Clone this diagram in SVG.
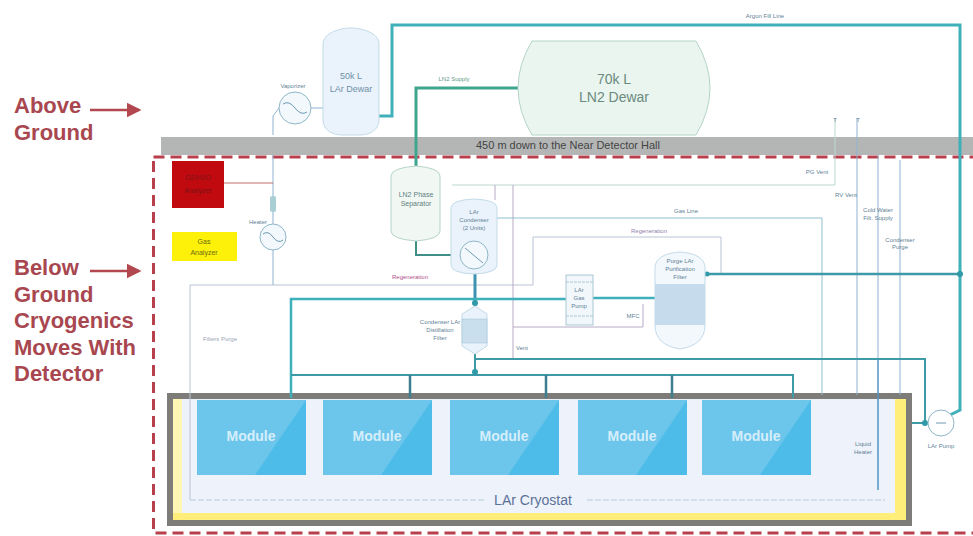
<svg xmlns="http://www.w3.org/2000/svg" width="973" height="536" viewBox="0 0 973 536">
<style>
text{font-family:"Liberation Sans",Arial,sans-serif}
.side{font-size:22px;font-weight:bold;fill:#a8474f}
.sm{font-size:6px;fill:#5f7f96;text-anchor:middle}
.md{font-size:7px;fill:#5f7f80;text-anchor:middle}
.big{font-size:14px;fill:#6b8a80;text-anchor:middle}
.ves{font-size:9px;fill:#6f8fa6;text-anchor:middle}
.mod{font-size:14px;font-weight:bold;fill:#d6eefa;text-anchor:middle}
.vessel{fill:#eaf3fb;stroke:#c3dbe8;stroke-width:1}
.green{fill:#e9f5ee;stroke:#b4d4c8;stroke-width:1}
.pipe{fill:none;stroke:#3fb0ba;stroke-width:3}
.teal{fill:none;stroke:#3f9aa8;stroke-width:2}
.grn{fill:none;stroke:#3fa58f;stroke-width:3}
.thin{fill:none;stroke:#9fc3d6;stroke-width:1}
.blue{fill:none;stroke:#8fb3d0;stroke-width:1}
.plum{fill:none;stroke:#b7a9c4;stroke-width:1}
.circ{fill:#f2f8fc;stroke:#8fb7c9;stroke-width:1}
.mbox{fill:#6cc6ec}
.mtri{fill:#4dbce8}
.dot{fill:#2f9aa8}
</style>
<defs>
<marker id="ah" markerWidth="7" markerHeight="7" refX="5" refY="3" orient="auto"><path d="M0,0L6,3L0,6Z" fill="#b3474f"/></marker>
</defs>
<rect width="973" height="536" fill="#fff"/>

<g id="ground-bar">
<rect x="161" y="137" width="812" height="18" fill="#b4b6b6"/>
<text x="568" y="149" font-size="11" fill="#444" text-anchor="middle">450 m down to the Near Detector Hall</text>
</g>

<g id="zone-below">
<rect x="153.500" y="157" width="830" height="376" fill="none" stroke="#b8404c" stroke-width="3" stroke-dasharray="11 6"/>
</g>

<g id="labels-side">
<text class="side" x="14" y="113">Above</text>
<text class="side" x="14" y="140">Ground</text>
<text class="side" x="14" y="275">Below</text>
<text class="side" x="14" y="302">Ground</text>
<text class="side" x="14" y="328">Cryogenics</text>
<text class="side" x="14" y="355">Moves With</text>
<text class="side" x="14" y="381">Detector</text>
<line x1="90" y1="110" x2="139" y2="110" stroke="#b3474f" stroke-width="2.500" marker-end="url(#ah)"/>
<line x1="90" y1="271" x2="139" y2="271" stroke="#b3474f" stroke-width="2.500" marker-end="url(#ah)"/>
</g>

<g id="cryostat">
<rect x="170" y="396" width="739" height="127" fill="#ffef7a" stroke="#7d7c78" stroke-width="6"/>
<rect x="173" y="399" width="9" height="114" fill="#fdf6b4"/>
<rect x="182" y="399" width="713" height="114" fill="#eef2fa"/>
<text x="533" y="505" font-size="14" fill="#5c7199" text-anchor="middle">LAr Cryostat</text>
<text x="863" y="446" class="sm">Liquid</text>
<text x="863" y="454" class="sm">Heater</text>
</g>

<g id="connectors">
<path class="thin" d="M190 500V285H533V237H721V273" style="stroke:#b9c4d4"/>
<path d="M190 500H485M587 500H885" fill="none" stroke="#b5cbdc" stroke-width="1" stroke-dasharray="6 2"/>
<path class="pipe" d="M378 116H392V25H960V410L948 416"/>
<path class="grn" d="M518 88H416V166"/>
<path class="teal" d="M416 241V255H462" style="stroke:#3f8f88"/>
<path class="blue" d="M323 108H311M279 108L273 116V135"/>
<path class="blue" d="M273 155V285"/>
<path d="M224 183H273" fill="none" stroke="#c56a6a" stroke-width="1"/>
<path class="blue" d="M835 118V185H452" style="stroke:#bcd8d0"/>
<path class="blue" d="M857 118V395"/>
<path class="blue" d="M900 160V395"/>
<path class="blue" d="M878 155V360"/>
<path d="M878 360V490" fill="none" stroke="#4f94c4" stroke-width="1.500"/>
<path class="blue" d="M497 218H822V395" style="stroke:#8fc0d0"/>
<path class="plum" d="M513 185V359M513 327H643V304"/>
<path class="plum" d="M495 185V200"/>
<path class="pipe" d="M475 273V306" style="stroke:#3f93b0"/>
<path class="pipe" d="M291 398V299H566M593 298H655" style="stroke-width:2.500"/>
<path class="teal" d="M475 354V375"/>
<path class="teal" d="M291 375H793V398"/>
<path class="teal" d="M410 375V398M546 375V398M672 375V398" style="stroke:#3d7f90;stroke-width:2.500"/>
<path class="teal" d="M475 359H925V423H912"/>
<path class="teal" d="M705 274H960" style="stroke-width:2.500"/>
<circle class="dot" cx="960" cy="274" r="3"/>
<circle class="dot" cx="925" cy="423" r="3"/>
<circle class="dot" cx="707" cy="274" r="2.500"/>
<circle class="dot" cx="475" cy="372" r="3"/>
<circle class="dot" cx="475" cy="303" r="3"/>
</g>

<g id="lar-dewar">
<path class="vessel" d="M323 44C323 33 340 28 351 28C362 28 379 33 379 44V120C379 131 368 135 360 135H342C334 135 323 131 323 120Z"/>
<text class="ves" x="351" y="79">50k L</text>
<text class="ves" x="351" y="92">LAr Dewar</text>
</g>

<g id="ln2-dewar">
<path class="green" d="M532 41H696Q724 88 696 135H532Q504 88 532 41Z"/>
<text class="big" x="614" y="84">70k L</text>
<text class="big" x="614" y="102">LN2 Dewar</text>
</g>

<g id="vaporizer">
<circle class="circ" cx="295" cy="108" r="16"/>
<path d="M283 104Q289 100 295 108T307 112" fill="none" stroke="#6d9ab0"/>
<text class="sm" x="293" y="88">Vaporizer</text>
</g>

<g id="o2-analyzer">
<rect x="172" y="161" width="52" height="47" fill="#c00a10"/>
<text x="198" y="180" font-size="7" fill="#7a1416" text-anchor="middle">O2/H2O</text>
<text x="198" y="193" font-size="7" fill="#7a1416" text-anchor="middle">Analyzer</text>
</g>

<g id="gas-analyzer">
<rect x="172" y="232" width="65" height="29" fill="#fdf10a"/>
<text x="204" y="244" font-size="7" fill="#6d6a10" text-anchor="middle">Gas</text>
<text x="204" y="255" font-size="7" fill="#6d6a10" text-anchor="middle">Analyzer</text>
</g>

<g id="heater">
<rect x="270" y="196" width="6" height="16" rx="2" fill="#a9cfd4"/>
<circle class="circ" cx="273" cy="237" r="13"/>
<path d="M263 234Q268 230 273 237T283 240" fill="none" stroke="#6d9ab0"/>
<text class="sm" x="258" y="224">Heater</text>
</g>

<g id="phase-separator">
<path class="green" d="M391 176Q391 168 416 166Q440 168 440 176V231Q440 239 416 241Q391 239 391 231Z" style="fill:#f1f8f4"/>
<text class="md" x="416" y="197">LN2 Phase</text>
<text class="md" x="416" y="206">Separator</text>
</g>

<g id="condenser">
<path class="vessel" d="M451 208Q451 200 474 199Q497 200 497 208V265Q497 273 474 274Q451 273 451 265Z"/>
<circle class="circ" cx="474" cy="255" r="14"/>
<path d="M465 248L483 263" fill="none" stroke="#6d9ab0"/>
<text class="sm" x="474" y="214">LAr</text>
<text class="sm" x="474" y="222">Condenser</text>
<text class="sm" x="474" y="230">(2 Units)</text>
</g>

<g id="filter">
<path class="vessel" d="M462 314L475 306L487 314V346L475 354L462 346Z"/>
<rect x="462" y="319" width="25" height="24" fill="#c9dfee" stroke="#9fc0d4" stroke-width="0.500"/>
<text class="sm" x="440" y="324">Condenser LAr</text>
<text class="sm" x="440" y="332">Distillation</text>
<text class="sm" x="440" y="340">Filter</text>
</g>

<g id="gas-pump">
<rect x="566" y="275" width="27" height="50" fill="#f2f7fb" stroke="#a9c8d4"/>
<path d="M566 282H593M566 316H593" fill="none" stroke="#a9c8d4" stroke-dasharray="3 1"/>
<text class="sm" x="579" y="292">LAr</text>
<text class="sm" x="579" y="300">Gas</text>
<text class="sm" x="579" y="308">Pump</text>
</g>

<g id="purification">
<path class="vessel" d="M655 268Q655 254 680 252Q705 254 705 268V325Q705 345 680 349Q655 345 655 325Z" style="fill:#f3f8fc"/>
<rect x="655" y="284" width="50" height="41" fill="#c6dcec"/>
<text class="sm" x="680" y="263">Purge LAr</text>
<text class="sm" x="680" y="271">Purification</text>
<text class="sm" x="680" y="279">Filter</text>
</g>

<g id="module-1"><rect class="mbox" x="197" y="400" width="109" height="75"/><path class="mtri" d="M306 400V475H255Z"/><text class="mod" x="251" y="441">Module</text></g>
<g id="module-2"><rect class="mbox" x="323" y="400" width="109" height="75"/><path class="mtri" d="M432 400V475H381Z"/><text class="mod" x="377" y="441">Module</text></g>
<g id="module-3"><rect class="mbox" x="450" y="400" width="109" height="75"/><path class="mtri" d="M559 400V475H508Z"/><text class="mod" x="504" y="441">Module</text></g>
<g id="module-4"><rect class="mbox" x="578" y="400" width="109" height="75"/><path class="mtri" d="M687 400V475H636Z"/><text class="mod" x="632" y="441">Module</text></g>
<g id="module-5"><rect class="mbox" x="702" y="400" width="109" height="75"/><path class="mtri" d="M811 400V475H760Z"/><text class="mod" x="756" y="441">Module</text></g>

<g id="lar-pump">
<circle class="circ" cx="941" cy="423" r="13" style="fill:#fff"/>
<line x1="936" y1="423" x2="946" y2="423" stroke="#6d9ab0"/>
<text class="sm" x="941" y="448">LAr Pump</text>
</g>

<g id="line-labels">
<text class="sm" x="765" y="18">Argon Fill Line</text>
<text class="sm" x="454" y="81" style="fill:#5f9a88">LN2 Supply</text>
<text class="sm" x="817" y="174">PG Vent</text>
<text class="sm" x="846" y="197">RV Vent</text>
<text class="sm" x="878" y="212">Cold Water</text>
<text class="sm" x="878" y="220">Filt. Supply</text>
<text class="sm" x="900" y="242">Condenser</text>
<text class="sm" x="900" y="249">Purge</text>
<text class="sm" x="686" y="213">Gas Line</text>
<text class="sm" x="649" y="233" style="fill:#8f7fae">Regeneration</text>
<text class="sm" x="410" y="279" style="fill:#b0508a">Regeneration</text>
<text class="sm" x="220" y="341" style="fill:#9aa5b8">Filters Purge</text>
<text class="sm" x="633" y="318">MFC</text>
<text class="sm" x="522" y="350">Vent</text>
<text class="sm" x="835" y="122">T</text>
<text class="sm" x="858" y="122">T</text>
</g>
</svg>
